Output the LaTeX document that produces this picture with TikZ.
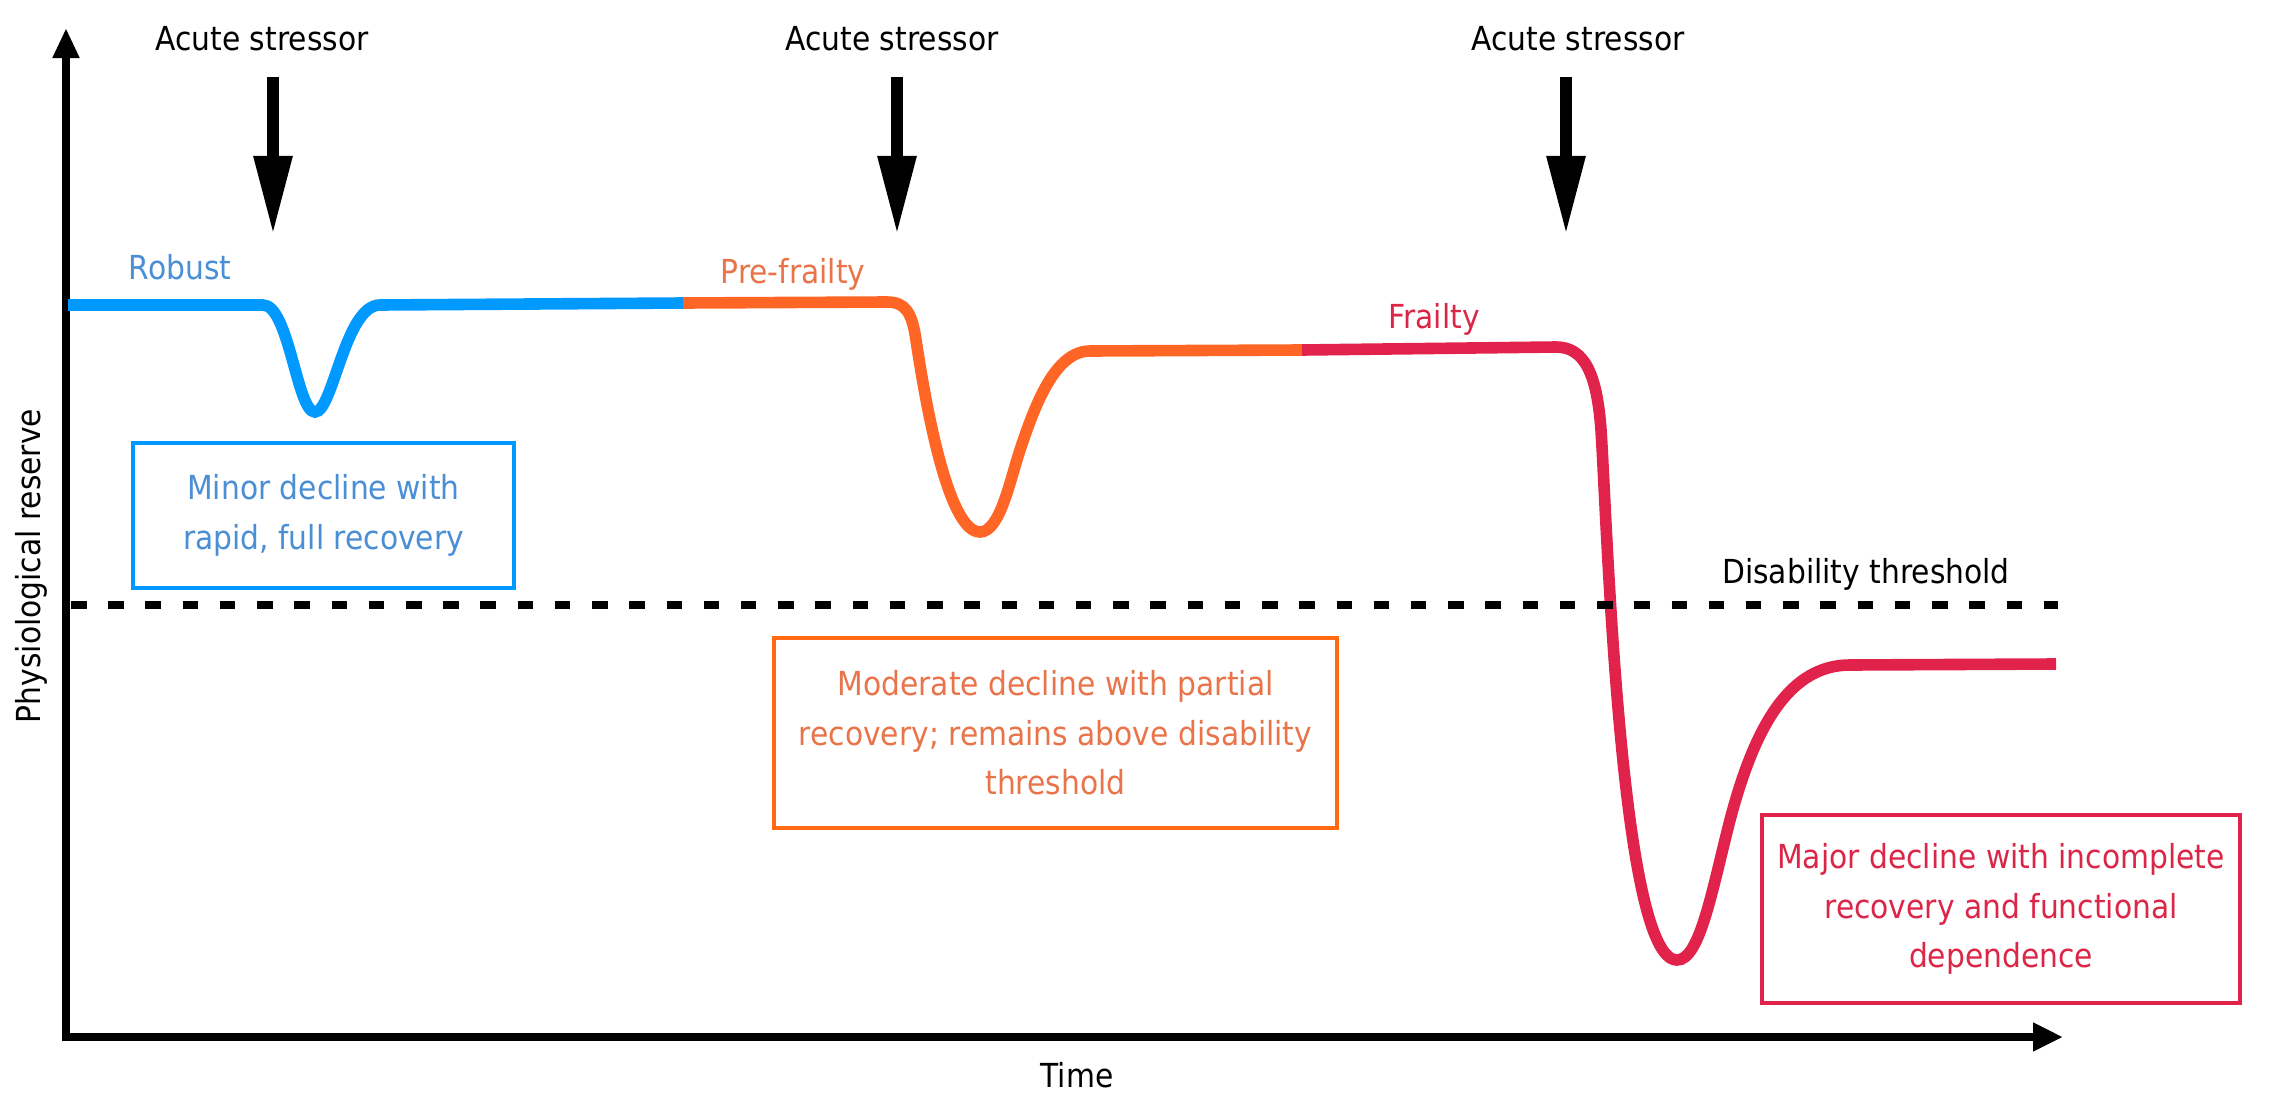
\documentclass[tikz,border=0pt]{standalone}
\usepackage{fontspec}
\setmainfont{DejaVu Sans}
\newfontfamily\labfont[FakeStretch=0.9]{DejaVu Sans}
\usetikzlibrary{arrows.meta}
\definecolor{blueline}{HTML}{0099FF}
\definecolor{bluetext}{HTML}{4A8FD6}
\definecolor{orangeline}{HTML}{FF6626}
\definecolor{orangebox}{HTML}{FF6A13}
\definecolor{orangetext}{HTML}{E9744A}
\definecolor{redline}{HTML}{E1234B}
\definecolor{redtext}{HTML}{DB2648}
\begin{document}
\begin{tikzpicture}[x=0.01cm,y=-0.01cm,
  curve/.style={line width=3.3pt},
  axisline/.style={line width=2.2pt, black},
  stress/.style={line width=3.4pt, -{Triangle[width=0.36cm,length=0.79cm]}},
  lab/.style={font=\labfont\fontsize{9.4}{14.1}\selectfont, inner sep=0pt, anchor=base},
  axlab/.style={font=\labfont\fontsize{9.4}{14.1}\selectfont, inner sep=0pt, anchor=base},
  infobox/.style={draw, line width=1.15pt, inner sep=0pt, align=center,
    font=\labfont\fontsize{9.4}{14.1}\selectfont},
]
\useasboundingbox (0,0) rectangle (2269,1106);
\fill[white] (0,0) rectangle (2269,1106);

% axes
\coordinate (ybot) at (66,1041);
\coordinate (ytip) at (66,28);
\coordinate (xleft) at (62,1037);
\coordinate (xtip) at (2063,1037);
\draw[axisline, -{Triangle[width=0.25cm,length=0.30cm]}] (ybot) -- (ytip);
\draw[axisline, -{Triangle[width=0.27cm,length=0.30cm]}] (xleft) -- (xtip);

% stressors
\node[lab] (as1) at (262,51) {Acute stressor};
\node[lab] (as2) at (892,51) {Acute stressor};
\node[lab] (as3) at (1578,51) {Acute stressor};
\coordinate (s1a) at (273,77);  \coordinate (s1b) at (273,235);
\coordinate (s2a) at (897,77);  \coordinate (s2b) at (897,235);
\coordinate (s3a) at (1566,77); \coordinate (s3b) at (1566,235);
\draw[stress] (s1a) -- (s1b);
\draw[stress] (s2a) -- (s2b);
\draw[stress] (s3a) -- (s3b);

% curves
\draw[curve, blueline] (68,305) -- (263,305)
  .. controls (289,305) and (297,412) .. (315,412)
  .. controls (333,412) and (345,305) .. (380,305) -- (683,303);
\draw[curve, orangeline] (683,303) -- (887,302)
  .. controls (905,302) and (912,312) .. (916,340)
  .. controls (928,420) and (950,532) .. (980,532)
  .. controls (1000,532) and (1010,480) .. (1020,450)
  .. controls (1035,405) and (1055,351) .. (1090,351) -- (1302,350);
\draw[curve, redline] (1302,350) -- (1556,347)
  .. controls (1585,347) and (1597,375) .. (1601,430)
  .. controls (1607,520) and (1620,960) .. (1677,960)
  .. controls (1700,960) and (1712,890) .. (1730,820)
  .. controls (1755,725) and (1790,665) .. (1850,665) -- (2056,664);

% threshold
\coordinate (d0) at (71,605);
\coordinate (d1) at (2058,605);
\draw[line width=2.2pt, dash pattern=on 0.155cm off 0.217cm] (d0) -- (d1);
\node[lab] (dis) at (1866,583) {Disability threshold};

% stage labels
\node[lab, text=bluetext] (robust) at (180,279) {Robust};
\node[lab, text=orangetext] (pre) at (793,283) {Pre-frailty};
\node[lab, text=redtext] (frail) at (1434,328) {Frailty};

% boxes
\node[infobox, draw=blueline, text=bluetext, minimum width=3.81cm, minimum height=1.45cm]
  (bbox) at (323.5,515.5) {Minor decline with\\rapid, full recovery};
\node[infobox, draw=orangebox, text=orangetext, minimum width=5.63cm, minimum height=1.90cm]
  (obox) at (1055.5,733) {Moderate decline with partial\\recovery; remains above disability\\threshold};
\node[infobox, draw=redline, text=redtext, minimum width=4.78cm, minimum height=1.88cm]
  (rbox) at (2001,909) {Major decline with incomplete\\recovery and functional\\dependence};

% axis labels
\node[axlab, rotate=90] (ylab) at (41,566) {Physiological reserve};
\node[axlab] (xlab) at (1077,1087) {Time};
\end{tikzpicture}
\end{document}
